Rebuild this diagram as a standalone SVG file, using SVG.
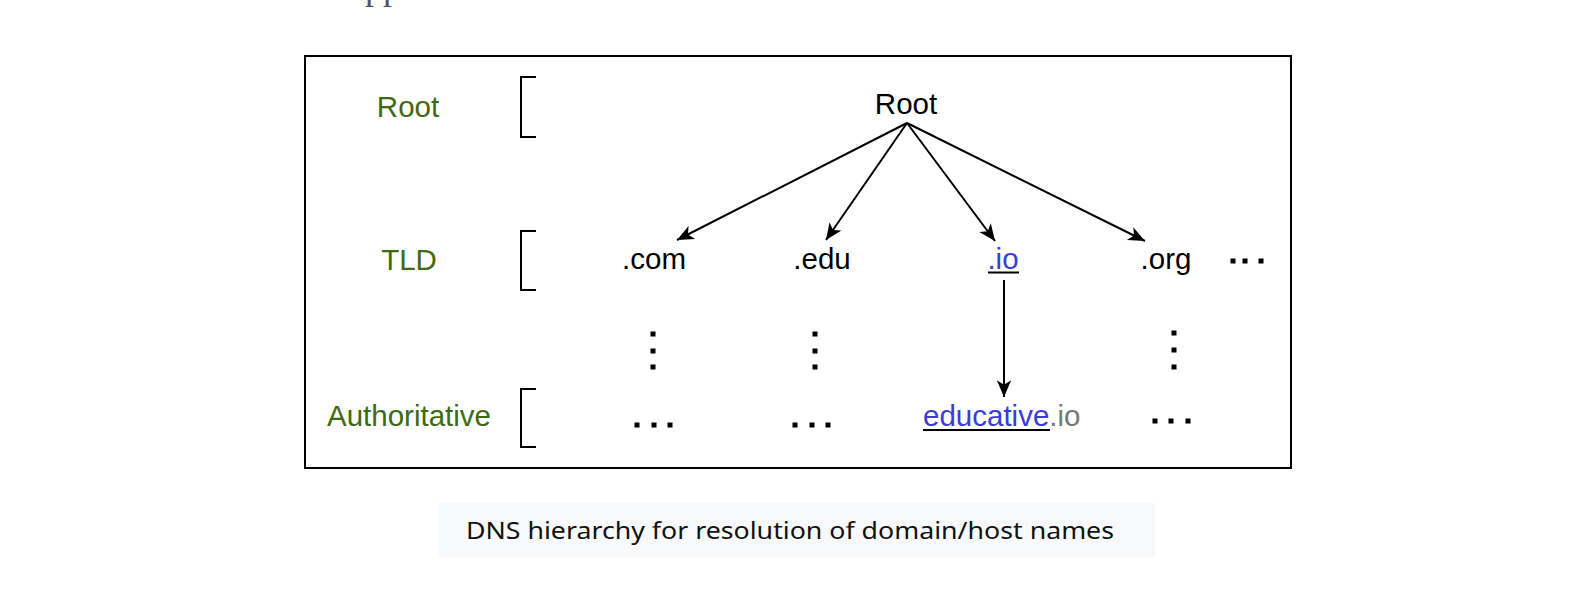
<svg xmlns="http://www.w3.org/2000/svg" width="1576" height="594" viewBox="0 0 1576 594">
<style>
.lvl{font-family:"Liberation Sans",Arial,sans-serif;font-size:29.5px;fill:#3e6a12;text-anchor:middle}
.nd{font-family:"Liberation Sans",Arial,sans-serif;font-size:29.5px;fill:#000;text-anchor:middle}
.br{fill:none;stroke:#000;stroke-width:2}
.ed{stroke:#000;stroke-width:2;fill:none;marker-end:url(#ah)}
.dot{fill:#000}
.cap{font-family:"Noto Sans","Open Sans",sans-serif;font-size:24px;fill:#111;text-anchor:middle}
</style>
<defs>
<marker id="ah" markerUnits="userSpaceOnUse" markerWidth="20" markerHeight="20" viewBox="-16 -8 18 16" refX="0" refY="0" orient="auto">
<path d="M0,0 L-15,-6.5 L-11,0 L-15,6.5 Z" fill="#000"/>
</marker>
</defs>
<rect width="1576" height="594" fill="#fff"/>
<text x="365" y="-1" font-family="Liberation Serif,serif" font-size="36" fill="#555">pp</text>
<rect x="305" y="56" width="986" height="412" fill="none" stroke="#000" stroke-width="2"/>
<g id="levels">
<text class="lvl" x="408" y="117">Root</text>
<text class="lvl" x="409" y="270">TLD</text>
<text class="lvl" x="409" y="426">Authoritative</text>
<path class="br" d="M536,77 H521 V137 H536"/>
<path class="br" d="M536,231 H521 V290 H536"/>
<path class="br" d="M536,389 H521 V447 H536"/>
</g>
<g id="root"><text class="nd" x="906" y="114">Root</text></g>
<g id="com"><text class="nd" x="654" y="269">.com</text></g>
<g id="edu"><text class="nd" x="822" y="269">.edu</text></g>
<g id="io"><text class="nd" x="1003" y="269" style="fill:#3c3cd2">.io</text>
<line x1="988" y1="272.5" x2="1019" y2="272.5" stroke="#000" stroke-width="2"/></g>
<g id="org"><text class="nd" x="1166" y="269">.org</text></g>
<g id="educative"><text x="923" y="426" font-family="Liberation Sans,Arial,sans-serif" font-size="29.5"><tspan fill="#3c3cd2">educative</tspan><tspan fill="#777">.io</tspan></text>
<line x1="923" y1="430" x2="1050" y2="430" stroke="#000" stroke-width="2"/></g>
<g id="dots" class="dot">
<rect x="1230.5" y="258.5" width="5" height="5"/><rect x="1242.5" y="258.5" width="5" height="5"/><rect x="1258.5" y="258.5" width="5" height="5"/>
<rect x="650.5" y="331.5" width="5" height="5"/><rect x="650.5" y="348.5" width="5" height="5"/><rect x="650.5" y="364.5" width="5" height="5"/>
<rect x="812.5" y="331.5" width="5" height="5"/><rect x="812.5" y="348.5" width="5" height="5"/><rect x="812.5" y="364.5" width="5" height="5"/>
<rect x="1171.5" y="330.5" width="5" height="5"/><rect x="1171.5" y="347.5" width="5" height="5"/><rect x="1171.5" y="364.5" width="5" height="5"/>
<rect x="634.5" y="422.5" width="5" height="5"/><rect x="651.5" y="422.5" width="5" height="5"/><rect x="667.5" y="422.5" width="5" height="5"/>
<rect x="792.5" y="422.5" width="5" height="5"/><rect x="809.5" y="422.5" width="5" height="5"/><rect x="825.5" y="422.5" width="5" height="5"/>
<rect x="1152.5" y="418.5" width="5" height="5"/><rect x="1168.5" y="418.5" width="5" height="5"/><rect x="1185.5" y="418.5" width="5" height="5"/>
</g>
<g id="connectors">
<line class="ed" x1="907" y1="123" x2="677" y2="240"/>
<line class="ed" x1="907" y1="123" x2="826" y2="240"/>
<line class="ed" x1="907" y1="123" x2="995" y2="241"/>
<line class="ed" x1="907" y1="123" x2="1145" y2="241"/>
<line class="ed" x1="1004" y1="280" x2="1004" y2="397"/>
</g>
<g id="caption">
<rect x="438" y="503" width="717" height="55" fill="#f8f9fa"/>
<text class="cap" x="790" y="539" textLength="648" lengthAdjust="spacingAndGlyphs">DNS hierarchy for resolution of domain/host names</text>
</g>
</svg>
